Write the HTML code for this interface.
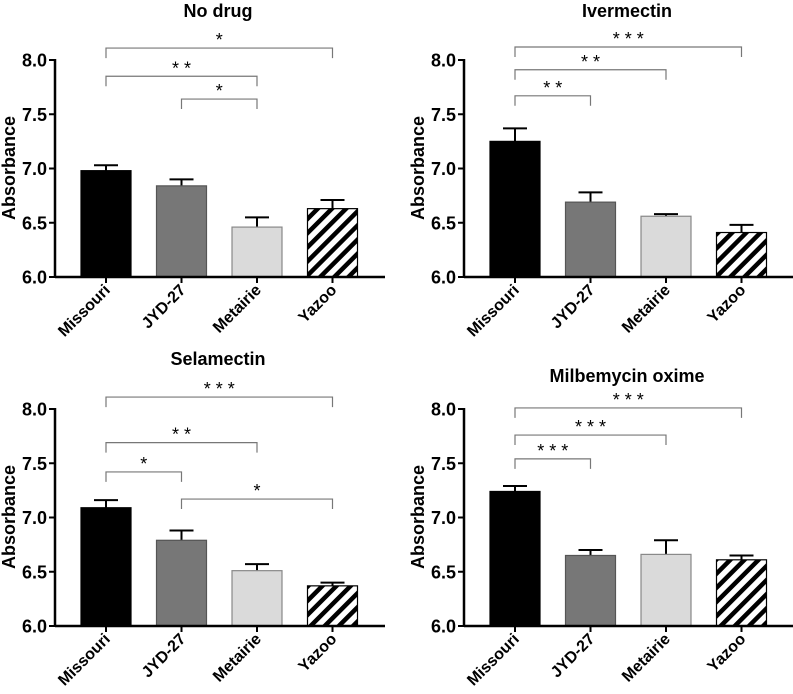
<!DOCTYPE html>
<html><head><meta charset="utf-8"><style>
body{margin:0;background:#fff}
svg{display:block;font-family:"Liberation Sans",Arial,sans-serif}
</style></head><body>
<svg id="c" width="793" height="694">
<defs>
<pattern id="hatch" patternUnits="userSpaceOnUse" width="10" height="10" patternTransform="rotate(45)">
<rect width="10" height="10" fill="#fff"/><rect width="4.5" height="10" fill="#000"/>
</pattern>
</defs>
</svg>
<script>
const categories=["Missouri","JYD-27","Metairie","Yazoo"];
const titles=["No drug","Ivermectin","Selamectin","Milbemycin oxime"];
const means=[[6.98,6.84,6.46,6.63],[7.25,6.69,6.56,6.41],[7.09,6.79,6.51,6.37],[7.24,6.65,6.66,6.61]];
const errs=[[0.05,0.06,0.09,0.08],[0.12,0.09,0.02,0.07],[0.07,0.09,0.06,0.03],[0.05,0.05,0.13,0.04]];
const yTicks=[6.0,6.5,7.0,7.5,8.0];
const sigFrom=[[0,0,1],[0,0,0],[0,0,0,1],[0,0,0]];
const sigTo=[[3,2,2],[3,2,1],[3,2,1,3],[3,2,1]];
const sigLabel=[["*","* *","*"],["* * *","* *","* *"],["* * *","* *","*","*"],["* * *","* * *","* * *"]];
const sigLevel=[[8.11,7.85,7.64],[8.12,7.91,7.67],[8.11,7.69,7.42,7.17],[8.01,7.76,7.54]];
const titleOffset=[-43,-43,-44,-27];
const fills=["#000","#777","#dadada","url(#hatch)"];
const strokes=["#000","#555","#888","#000"];
const ns="http://www.w3.org/2000/svg";
const svg=document.getElementById('c');
function mk(t,a,p){const e=document.createElementNS(ns,t);for(const k in a)e.setAttribute(k,a[k]);(p||svg).appendChild(e);return e;}
const origins=[[55,60],[464,60],[55,409],[464,409]];
for(let p=0;p<4;p++){
 const [ox,oy]=origins[p];
 const y0=oy+217;
 const y=v=>y0-(v-6)*108.5;
 const x=i=>ox+51+i*75.5;
 const g=mk('g',{});
 
 
 const t=mk('text',{x:ox+163,y:oy+titleOffset[p],'text-anchor':'middle','font-size':18,'font-weight':'bold'},g);t.textContent=titles[p];
 
 
 const yl=mk('text',{transform:`translate(${ox-40},${oy+108}) rotate(-90)`,'text-anchor':'middle','font-size':18,'font-weight':'bold'},g);yl.textContent="Absorbance";
 
 
 for(let i=0;i<4;i++){
  const top=y(means[p][i]),et=y(means[p][i]+errs[p][i]),cx=x(i);
  mk('line',{x1:cx,x2:cx,y1:top,y2:et,stroke:'#000','stroke-width':2},g);
  mk('line',{x1:cx-12,x2:cx+12,y1:et,y2:et,stroke:'#000','stroke-width':2},g);
  const b=mk('rect',{x:cx-25,y:top,width:50,height:y0-top,fill:fills[i],stroke:strokes[i],'stroke-width':1.2},g);
  
  
  mk('line',{x1:cx,x2:cx,y1:y0,y2:y0+6,stroke:'#000','stroke-width':2},g);
  const xl=mk('text',{transform:`translate(${cx+5},${y0+14}) rotate(-45)`,'text-anchor':'end','font-size':16,'font-weight':'bold'},g);xl.textContent=categories[i];
  
  
 }
 mk('line',{x1:ox,x2:ox,y1:y(8)-1,y2:y0+1,stroke:'#000','stroke-width':2.5},g);
 mk('line',{x1:ox,x2:ox+330,y1:y0,y2:y0,stroke:'#000','stroke-width':2.5},g);
 yTicks.forEach(v=>{mk('line',{x1:ox-6,x2:ox,y1:y(v),y2:y(v),stroke:'#000','stroke-width':2},g);
  const tl=mk('text',{x:ox-8,y:y(v)+6.5,'text-anchor':'end','font-size':18,'font-weight':'bold'},g);tl.textContent=v.toFixed(1);
  
  });
 for(let s=0;s<sigFrom[p].length;s++){
  const a=x(sigFrom[p][s]),b=x(sigTo[p][s]),ly=y(sigLevel[p][s]);
  const br=mk('path',{d:`M${a},${ly+10}V${ly}H${b}V${ly+10}`,fill:'none',stroke:'#777','stroke-width':1.2},g);
  
  
  const st=mk('text',{x:(a+b)/2,y:ly-2,'text-anchor':'middle','font-size':18},g);st.textContent=sigLabel[p][s];
  
  
 }
}
</script>
</body></html>
